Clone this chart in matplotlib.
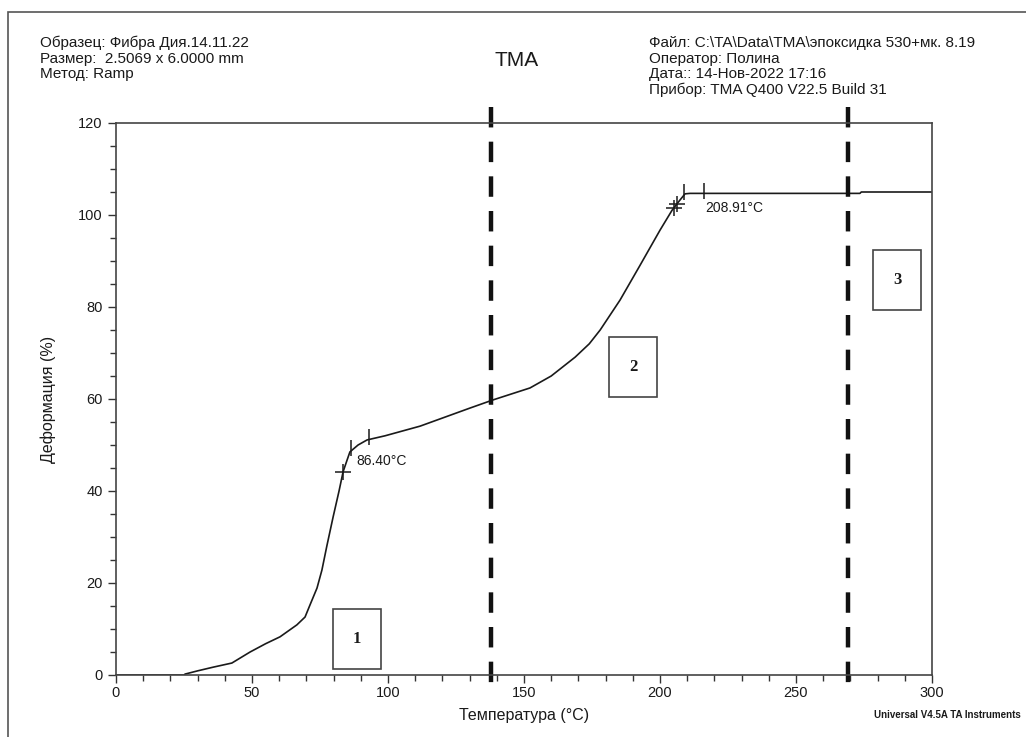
"""TMA deformation curve (Фибра Дия.14.11.22) redrawn with matplotlib."""

import matplotlib

matplotlib.use("Agg")
import matplotlib.pyplot as plt
import numpy as np
from matplotlib.patches import Rectangle

# curve: temperature (°C) vs deformation (%)
temp = [0, 25, 25.4, 30, 35.7, 42.6, 49.3, 55, 60.3, 66.5, 69.5, 71.3, 73.9,
        75.7, 77.5, 79.8, 82, 83.5, 85, 86, 89, 92.3, 98.9, 111.8, 130, 138.6,
        152.2, 160, 168.8, 174, 178, 185.3, 192.6, 200, 204.4, 207, 209.2, 211,
        240, 273.5, 274, 300]
deform = [0, 0, 0.2, 0.9, 1.7, 2.6, 5, 6.8, 8.3, 10.9, 12.6, 15.2, 18.9,
          22.8, 28, 34.3, 40, 44.2, 46.8, 48.5, 50, 51.1, 52, 54.1, 58, 59.8,
          62.4, 65, 69.1, 72, 75, 81.5, 89, 96.7, 101, 103, 104.6, 104.7,
          104.7, 104.7, 105, 105]

# analysis cursors
onsets = ["86.40°C", "208.91°C"]
onset_label_x = [88.5, 216.5]
cross_x = [83.5, 205.0, 206.3]
tick_x = [86.5, 93.0, 209.0, 216.0]

# region boundaries and numbered boxes
boundaries = [138, 269]
region_names = ["1", "2", "3"]
region_x = [(79.8, 97.4), (181.3, 198.9), (278.3, 296.0)]
region_y = [(1.3, 14.3), (60.4, 73.5), (79.3, 92.4)]

header_left = ["Образец: Фибра Дия.14.11.22",
               "Размер:  2.5069 x 6.0000 mm",
               "Метод: Ramp"]
header_right = ["Файл: C:\\TA\\Data\\TMA\\эпоксидка 530+мк. 8.19",
                "Оператор: Полина",
                "Дата:: 14-Нов-2022 17:16",
                "Прибор: TMA Q400 V22.5 Build 31"]

plt.rcParams["font.family"] = ["Liberation Sans", "DejaVu Sans"]
ink = "#1a1a1a"

fig = plt.figure(figsize=(10.26, 7.37), dpi=100)
fig.patches.append(Rectangle((8 / 1026, -0.1), 1.1, 0.1 + 725 / 737,
                             transform=fig.transFigure, fill=False,
                             edgecolor="#555555", lw=1.2))

ax = fig.add_axes([116 / 1026, 62 / 737, 816 / 1026, 552 / 737])
ax.plot(temp, deform, color=ink, lw=1.2)

ax.set_xlim(0, 300)
ax.set_ylim(0, 120)
ax.set_xticks(np.arange(0, 301, 50))
ax.set_xticks(np.arange(0, 301, 10), minor=True)
ax.set_yticks(np.arange(0, 121, 20))
ax.set_yticks(np.arange(0, 121, 5), minor=True)
ax.tick_params(which="both", direction="out", colors="#333333",
               labelcolor=ink, labelsize=10.5, width=1)
ax.tick_params(which="major", length=6)
ax.tick_params(which="minor", length=4)
ax.tick_params(axis="x", pad=2)
for s in ax.spines.values():
    s.set_color("#444444")
    s.set_linewidth(1.2)

ax.set_xlabel("Температура (°C)", fontsize=11.5, color=ink, labelpad=6)
ax.set_ylabel("Деформация (%)", fontsize=11.5, color=ink, labelpad=16)

for b in boundaries:
    ax.plot([b, b], [123.5, -2], color="#111111", lw=3.2,
            ls=(0, (4.6, 3.2)), clip_on=False, solid_capstyle="butt")

for name, (x0, x1), (y0, y1) in zip(region_names, region_x, region_y):
    ax.add_patch(Rectangle((x0, y0), x1 - x0, y1 - y0, fill=False,
                           edgecolor="#444444", lw=1.2))
    ax.text((x0 + x1) / 2, (y0 + y1) / 2, name, ha="center", va="center",
            fontsize=12, fontweight="bold", family="Liberation Serif",
            color=ink)

ax.plot(cross_x, np.interp(cross_x, temp, deform), "+", color=ink,
        ms=11, mew=1.1)
ax.plot(tick_x, np.interp(tick_x, temp, deform) + 0.6, "|", color=ink,
        ms=11, mew=1.1)
for label, lx in zip(onsets, onset_label_x):
    ax.text(lx, np.interp(lx, temp, deform) - 1.7, label, ha="left",
            va="top", fontsize=10, color=ink)

for i, line in enumerate(header_left):
    fig.text(40 / 1026, 1 - (43 + 15.5 * i) / 737, line, fontsize=11,
             va="center", color=ink)
for i, line in enumerate(header_right):
    fig.text(649 / 1026, 1 - (43 + 15.5 * i) / 737, line, fontsize=11,
             va="center", color=ink)
fig.text(517 / 1026, 1 - 61 / 737, "TMA", fontsize=15, ha="center",
         va="center", color=ink)
fig.text(1021 / 1026, 1 - 715 / 737, "Universal V4.5A TA Instruments",
         fontsize=7, fontweight="bold", ha="right", va="center", color=ink,
         stretch="condensed")

fig.savefig("out.png", dpi=100)
